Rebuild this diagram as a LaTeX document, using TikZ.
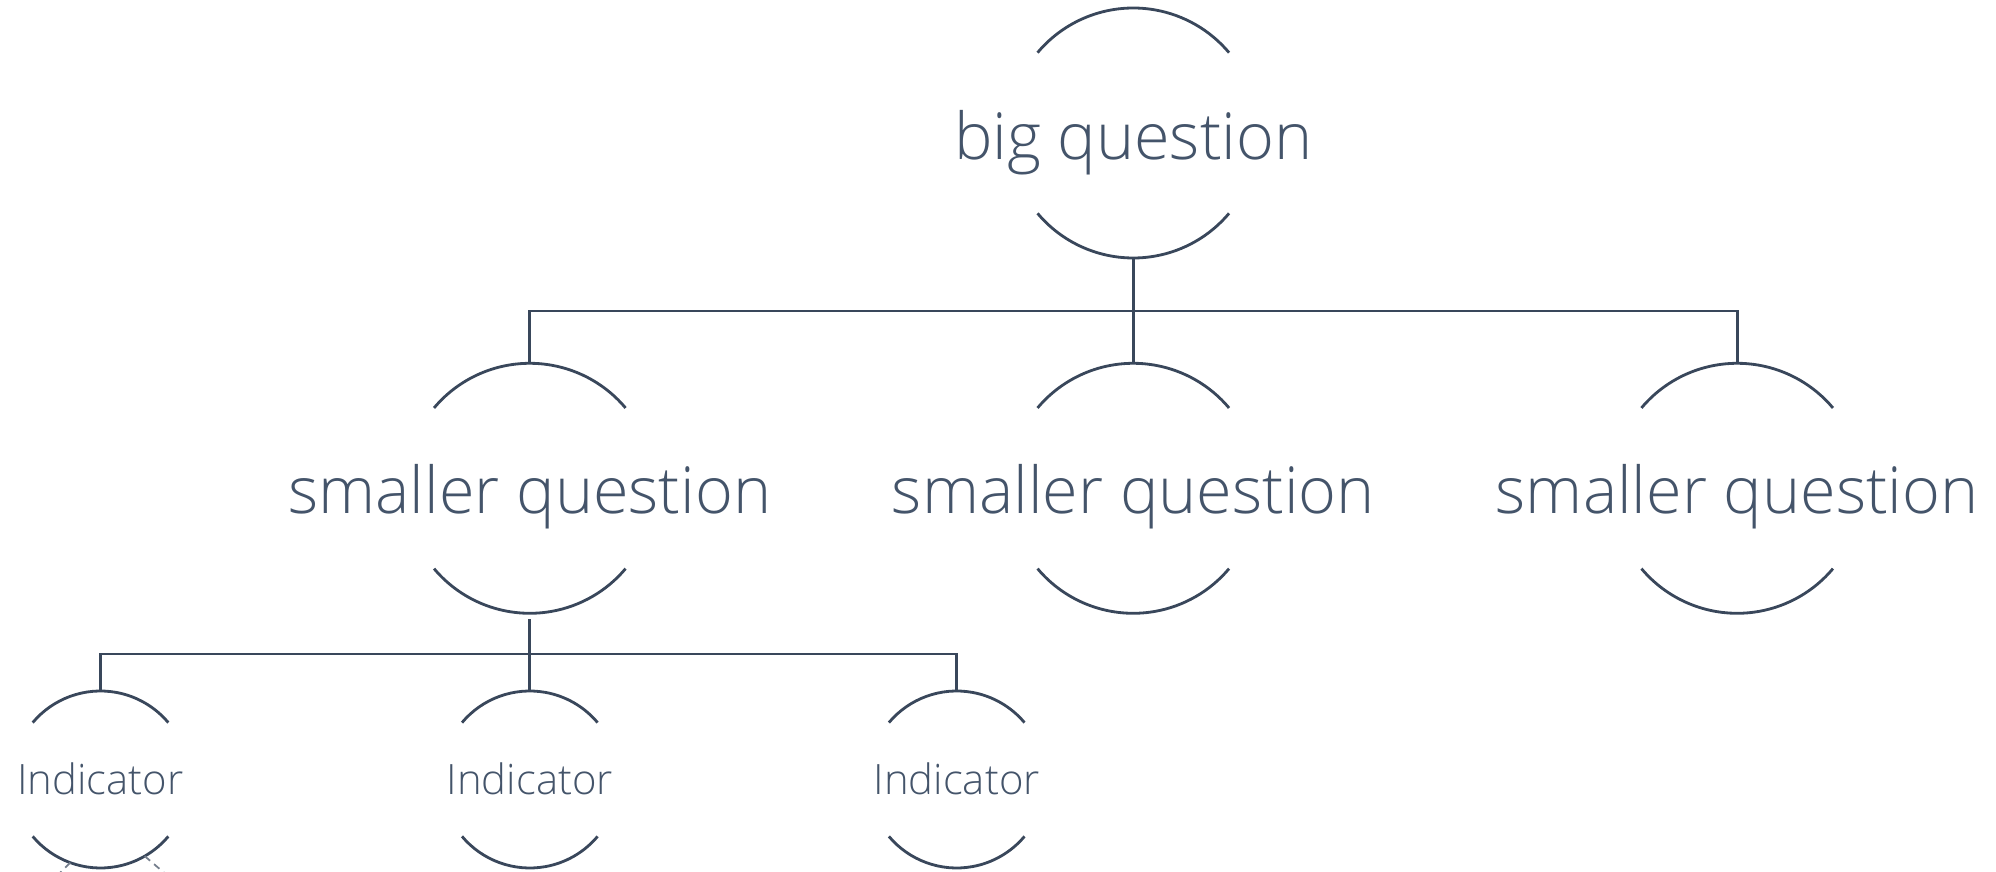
\documentclass[tikz,border=0pt]{standalone}
\usepackage{fontspec}
\setmainfont{Open Sans}[UprightFont={* Light}]
\definecolor{qtext}{HTML}{44546A}
\definecolor{qline}{HTML}{39475B}

\begin{document}
\begin{tikzpicture}[
    ring/.style={inner sep=0pt, outer sep=0pt, circle, minimum size=2.5cm},
    smallring/.style={inner sep=0pt, outer sep=0pt, circle, minimum size=1.77cm},
    arcline/.style={draw=qline, line width=0.8pt},
    wire/.style={draw=qline, line width=0.8pt},
    faint/.style={draw=qline!70, line width=0.5pt, dash pattern=on 2pt off 1.5pt},
    bigtext/.style={text=qtext, anchor=base, font=\fontsize{18.4}{22}\selectfont},
    smalltext/.style={text=qtext, anchor=base, font=\fontsize{11.9}{14}\selectfont}]

\clip (0,0) rectangle (19.96,-8.72);

\node[ring] (big) at (11.333,-1.33) {};

\node[ring] (sq1) at (5.298,-4.883) {};
\node[ring] (sq2) at (11.333,-4.883) {};
\node[ring] (sq3) at (17.372,-4.883) {};

\node[smallring] (ind1) at (1.005,-7.795) {};
\node[smallring] (ind2) at (5.298,-7.795) {};
\node[smallring] (ind3) at (9.567,-7.795) {};

\node[bigtext] (bigq) at (11.333,-1.60) {big question};
\node[bigtext] (sq1q) at (5.298,-5.133) {smaller question};
\node[bigtext] (sq2q) at (11.333,-5.133) {smaller question};
\node[bigtext] (sq3q) at (17.372,-5.133) {smaller question};
\node[smalltext] (ind1q) at (1.005,-7.95) {Indicator};
\node[smalltext] (ind2q) at (5.298,-7.95) {Indicator};
\node[smalltext] (ind3q) at (9.567,-7.95) {Indicator};

\draw[arcline] (big.140) arc[start angle=140, end angle=40, radius=1.25];
\draw[arcline] (big.220) arc[start angle=220, end angle=320, radius=1.25];

\draw[arcline] (sq1.140) arc[start angle=140, end angle=40, radius=1.25];
\draw[arcline] (sq1.220) arc[start angle=220, end angle=320, radius=1.25];
\draw[arcline] (sq2.140) arc[start angle=140, end angle=40, radius=1.25];
\draw[arcline] (sq2.220) arc[start angle=220, end angle=320, radius=1.25];
\draw[arcline] (sq3.140) arc[start angle=140, end angle=40, radius=1.25];
\draw[arcline] (sq3.220) arc[start angle=220, end angle=320, radius=1.25];

\draw[arcline] (ind1.140) arc[start angle=140, end angle=40, radius=0.885];
\draw[arcline] (ind1.220) arc[start angle=220, end angle=320, radius=0.885];
\draw[arcline] (ind2.140) arc[start angle=140, end angle=40, radius=0.885];
\draw[arcline] (ind2.220) arc[start angle=220, end angle=320, radius=0.885];
\draw[arcline] (ind3.140) arc[start angle=140, end angle=40, radius=0.885];
\draw[arcline] (ind3.220) arc[start angle=220, end angle=320, radius=0.885];

\coordinate (split1) at (11.333,-3.11);
\coordinate (split2) at (5.298,-6.54);

\draw[wire] (big.south) -- (split1);
\draw[wire] (split1) -| (sq1.north);
\draw[wire] (split1) -- (sq2.north);
\draw[wire] (split1) -| (sq3.north);

\draw[wire, shorten <=0.06cm] (sq1.south) -- (split2);
\draw[wire] (split2) -| (ind1.north);
\draw[wire] (split2) -- (ind2.north);
\draw[wire] (split2) -| (ind3.north);

\coordinate (lowleft) at (0.40,-8.93);
\coordinate (lowright) at (1.76,-8.83);
\draw[faint] (ind1.250) -- (lowleft);
\draw[faint] (ind1.300) -- (lowright);

\end{tikzpicture}
\end{document}
